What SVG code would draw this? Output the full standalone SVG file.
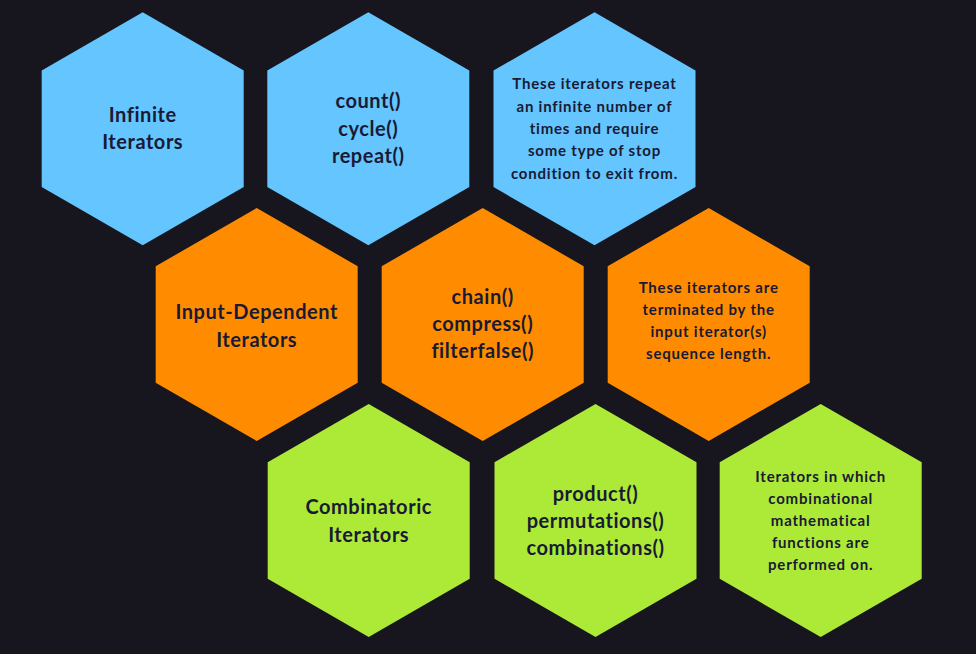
<svg xmlns="http://www.w3.org/2000/svg" xmlns:xlink="http://www.w3.org/1999/xlink" width="976" height="654" viewBox="0 0 976 654">
  <defs>
    <polygon id="hex" points="0,-116.5 101,-58.25 101,58.25 0,116.5 -101,58.25 -101,-58.25"/>
    <style>
      .blue { fill: #64c5ff; }
      .orange { fill: #ff8c00; }
      .green { fill: #adea37; }
      text { font-family: Lato, "Noto Sans", sans-serif; font-weight: 700; fill: #191a33; text-anchor: middle; }
      .big { font-size: 20px; letter-spacing: 0.55px; }
      .small { font-size: 15px; letter-spacing: 0.8px; }
    </style>
  </defs>
  <rect width="976" height="654" fill="#17161f"/>

  <!-- Row 1: infinite iterators -->
  <g id="infinite-title">
    <use xlink:href="#hex" class="blue" transform="translate(142.7,128.8)"/>
    <text class="big" x="142.7" y="121.7">Infinite</text>
    <text class="big" x="142.7" y="149.3">Iterators</text>
  </g>
  <g id="infinite-funcs">
    <use xlink:href="#hex" class="blue" transform="translate(368.3,128.8)"/>
    <text class="big" x="368.3" y="108">count()</text>
    <text class="big" x="368.3" y="135.5">cycle()</text>
    <text class="big" x="368.3" y="163">repeat()</text>
  </g>
  <g id="infinite-desc">
    <use xlink:href="#hex" class="blue" transform="translate(594.5,128.8)"/>
    <text class="small" x="594.5" y="89.3">These iterators repeat</text>
    <text class="small" x="594.5" y="111.6">an infinite number of</text>
    <text class="small" x="594.5" y="133.9">times and require</text>
    <text class="small" x="594.5" y="156.2">some type of stop</text>
    <text class="small" x="594.5" y="178.5">condition to exit from.</text>
  </g>

  <!-- Row 2: input-dependent iterators -->
  <g id="input-title">
    <use xlink:href="#hex" class="orange" transform="translate(256.7,324.5)"/>
    <text class="big" x="256.7" y="319">Input-Dependent</text>
    <text class="big" x="256.7" y="346.7">Iterators</text>
  </g>
  <g id="input-funcs">
    <use xlink:href="#hex" class="orange" transform="translate(482.7,324.5)"/>
    <text class="big" x="482.7" y="304">chain()</text>
    <text class="big" x="482.7" y="331">compress()</text>
    <text class="big" x="482.7" y="358">filterfalse()</text>
  </g>
  <g id="input-desc">
    <use xlink:href="#hex" class="orange" transform="translate(708.7,324.5)"/>
    <text class="small" x="708.7" y="293.3">These iterators are</text>
    <text class="small" x="708.7" y="315.3">terminated by the</text>
    <text class="small" x="708.7" y="337.3">input iterator(s)</text>
    <text class="small" x="708.7" y="359.3">sequence length.</text>
  </g>

  <!-- Row 3: combinatoric iterators -->
  <g id="combo-title">
    <use xlink:href="#hex" class="green" transform="translate(368.7,520.5)"/>
    <text class="big" x="368.7" y="514">Combinatoric</text>
    <text class="big" x="368.7" y="541.5">Iterators</text>
  </g>
  <g id="combo-funcs">
    <use xlink:href="#hex" class="green" transform="translate(595.5,520.5)"/>
    <text class="big" x="595.5" y="501">product()</text>
    <text class="big" x="595.5" y="528">permutations()</text>
    <text class="big" x="595.5" y="555">combinations()</text>
  </g>
  <g id="combo-desc">
    <use xlink:href="#hex" class="green" transform="translate(820.7,520.5)"/>
    <text class="small" x="820.7" y="482.3">Iterators in which</text>
    <text class="small" x="820.7" y="504.3">combinational</text>
    <text class="small" x="820.7" y="526.3">mathematical</text>
    <text class="small" x="820.7" y="548.3">functions are</text>
    <text class="small" x="820.7" y="570.3">performed on.</text>
  </g>

  <g id="connectors"/>
</svg>
